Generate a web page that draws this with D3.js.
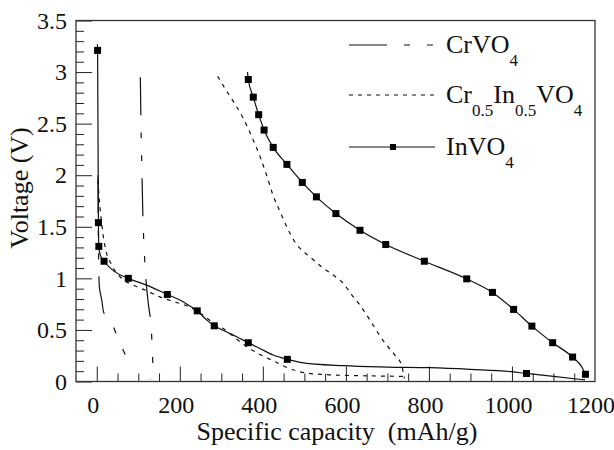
<!DOCTYPE html>
<html>
<head>
<meta charset="utf-8">
<script src="https://cdn.jsdelivr.net/npm/d3@7"></script>
</head>
<body style="margin:0; background:#fff">
<div id="chart"></div>
<script>
// values: [capacity mAh/g, voltage V]
var invo4Left = [[1.5,3.27],[2,3.21],[4,1.54],[5,1.31],[9,1.22],[17.6,1.166],[44,1.063],[76,1.0],[120,0.934],[170,0.844],[200,0.79],[225,0.73],[242,0.685],[265,0.595],[283,0.54],[313,0.48],[337,0.434],[365,0.376],[393,0.32],[425,0.257],[459,0.215],[490,0.186],[594,0.153],[700,0.14],[802,0.134],[900,0.118],[1000,0.095],[1035,0.078],[1100,0.05],[1176,0.015]];
var invo4LeftMarks = [[2,3.21],[4,1.54],[5,1.31],[17.6,1.166],[76,1.0],[170,0.844],[242,0.685],[283,0.54],[365,0.376],[459,0.215],[1035,0.078]];
var invo4Right = [[363,3.0],[365,2.928],[377,2.757],[390,2.587],[403,2.438],[425,2.27],[458,2.105],[495,1.93],[529,1.79],[576,1.628],[634,1.466],[696,1.328],[789,1.166],[891,0.995],[953,0.864],[1004,0.699],[1048,0.537],[1098,0.376],[1146,0.237],[1168,0.143],[1177,0.07]];
var invo4RightMarks = [[365,2.928],[377,2.757],[390,2.587],[403,2.438],[425,2.27],[458,2.105],[495,1.93],[529,1.79],[576,1.628],[634,1.466],[696,1.328],[789,1.166],[891,0.995],[953,0.864],[1004,0.699],[1048,0.537],[1098,0.376],[1146,0.237],[1177,0.07]];
var mixLeft = [[3,1.95],[5,1.82],[8,1.68],[12,1.53],[16,1.40],[22,1.27],[36,1.13],[60,1.0],[88,0.934],[120,0.88],[152,0.82],[200,0.757],[225,0.72],[250,0.66],[280,0.57],[313,0.49],[337,0.41],[360,0.34],[385,0.28],[425,0.20],[465,0.125],[500,0.085],[560,0.065],[650,0.055],[740,0.05]];
var mixRight = [[291,2.96],[309,2.84],[325,2.74],[353,2.55],[377,2.34],[397,2.14],[413,1.95],[425,1.80],[440,1.66],[460,1.48],[476,1.36],[490,1.29],[513,1.21],[542,1.11],[570,1.03],[594,0.95],[614,0.84],[634,0.74],[658,0.595],[678,0.467],[698,0.353],[718,0.256],[734,0.16],[741,0.03]];
var crvo4Left = [[3,2.0],[3.5,1.6],[4.5,1.2],[6,0.93],[9,0.85],[12,0.79],[16,0.68],[25,0.62],[38,0.547],[50,0.43],[62,0.32],[72,0.23],[81,0.16]];
var crvo4Right = [[105,2.95],[106.5,2.5],[108,2.2],[110,1.8],[111.5,1.55],[114,1.3],[118,1.01],[124,0.76],[130,0.58],[133,0.37],[135,0.16],[134.5,0.05],[128,0.02]];

var xMajor = [0, 200, 400, 600, 800, 1000, 1200];
var yMajor = [0, 0.5, 1, 1.5, 2, 2.5, 3, 3.5];

var serif = "'Liberation Serif', 'Times New Roman', serif";
var width = 614, height = 450;
var svg = d3.select("#chart").append("svg")
  .attr("width", width).attr("height", height);

var x = d3.scaleLinear().domain([-50, 1200]).range([76, 595]);
var y = d3.scaleLinear().domain([0, 3.5]).range([381.5, 20.5]);

// minor ticks every 50 / 0.1, inward
var xMinor = d3.range(0, 1200, 50).filter(function(d) { return d % 200 !== 0; });
var yMinor = d3.range(1, 35).map(function(d) { return d / 10; }).filter(function(d) { return Math.round(d * 10) % 5 !== 0; });

svg.append("g")
  .attr("transform", "translate(0," + y(0) + ")")
  .call(d3.axisBottom(x).tickValues(xMinor).tickSize(-8).tickFormat(""))
  .call(function(g) { g.select(".domain").remove(); });

svg.append("g")
  .attr("class", "xaxis")
  .attr("transform", "translate(0," + y(0) + ")")
  .call(d3.axisBottom(x).tickValues(xMajor.filter(function(d) { return d < 1200; })).tickSize(-15).tickPadding(14).tickFormat(function(d) { return d; }))
  .call(function(g) { g.select(".domain").remove(); });

// 1200 label sits on the frame, no tick line
svg.append("text")
  .attr("x", x(1200) - 4).attr("y", y(0) + 31.5)
  .attr("text-anchor", "middle").style("font-size", "24px")
  .text(xMajor[xMajor.length - 1]);

svg.selectAll(".xaxis text").attr("dx", -4).style("font-size", "24px");

svg.append("g")
  .attr("transform", "translate(" + x(-50) + ",0)")
  .call(d3.axisLeft(y).tickValues(yMinor).tickSize(-8).tickFormat(""))
  .call(function(g) { g.select(".domain").remove(); });

svg.append("g")
  .attr("class", "yaxis")
  .attr("transform", "translate(" + x(-50) + ",0)")
  .call(d3.axisLeft(y).tickValues(yMajor).tickSize(-16).tickPadding(9).tickFormat(function(d) { return String(d); }))
  .call(function(g) { g.select(".domain").remove(); });

svg.selectAll(".yaxis text").style("font-size", "24px");
svg.selectAll(".tick line").attr("stroke", "#222");

// frame
svg.append("rect")
  .attr("x", x(-50)).attr("y", y(3.5))
  .attr("width", x(1200) - x(-50)).attr("height", y(0) - y(3.5))
  .attr("fill", "none").attr("stroke", "#333").attr("stroke-width", 1.3);

var smooth = d3.line()
  .x(function(d) { return x(d[0]); })
  .y(function(d) { return y(d[1]); })
  .curve(d3.curveMonotoneX);

var loose = d3.line()
  .x(function(d) { return x(d[0]); })
  .y(function(d) { return y(d[1]); })
  .curve(d3.curveCatmullRom);

var crDash = "38,17,6,17,6,17";
var mixDash = "4,5";

function drawLine(data, gen, dash) {
  svg.append("path")
    .datum(data)
    .attr("d", gen)
    .attr("fill", "none")
    .attr("stroke", "#111")
    .attr("stroke-width", 1.2)
    .attr("stroke-dasharray", dash);
}

drawLine(crvo4Left, smooth, crDash);
drawLine(crvo4Right, loose, crDash);
drawLine(mixLeft, smooth, mixDash);
drawLine(mixRight, smooth, mixDash);
drawLine(invo4Left, smooth, null);
drawLine(invo4Right, smooth, null);

var sq = 7;
svg.selectAll(".mark")
  .data(invo4LeftMarks.concat(invo4RightMarks))
  .enter().append("rect")
  .attr("class", "mark")
  .attr("x", function(d) { return x(d[0]) - sq / 2; })
  .attr("y", function(d) { return y(d[1]) - sq / 2; })
  .attr("width", sq).attr("height", sq)
  .attr("fill", "#000");

// legend
var legend = [
  { parts: [["CrVO", 0], ["4", 1]], dash: crDash, mark: false },
  { parts: [["Cr", 0], ["0.5", 1], ["In", 0], ["0.5", 1], ["VO", 0], ["4", 1]], dash: mixDash, mark: false },
  { parts: [["InVO", 0], ["4", 1]], dash: null, mark: true }
];
var legendY = [45, 95, 147];

legend.forEach(function(item, i) {
  var ly = legendY[i];
  svg.append("line")
    .attr("x1", 349).attr("x2", 435)
    .attr("y1", ly).attr("y2", ly)
    .attr("stroke", "#111").attr("stroke-width", 1.2)
    .attr("stroke-dasharray", item.dash);
  if (item.mark) {
    svg.append("rect")
      .attr("x", 393 - 3).attr("y", ly - 3)
      .attr("width", 6).attr("height", 6).attr("fill", "#000");
  }
  var t = svg.append("text")
    .attr("x", 446).attr("y", ly + 7.5)
    .style("font-size", "26px");
  var prev = 0;
  item.parts.forEach(function(p) {
    var shift = (p[1] - prev) * 13;
    prev = p[1];
    t.append("tspan")
      .attr("dy", shift)
      .style("font-size", p[1] ? "17px" : "26px")
      .text(p[0]);
  });
});

// axis titles
svg.append("text")
  .attr("x", 337).attr("y", 440)
  .attr("text-anchor", "middle")
  .style("font-size", "26px")
  .style("white-space", "pre")
  .text("Specific capacity  (mAh/g)");

svg.append("text")
  .attr("transform", "translate(28,188) rotate(-90)")
  .attr("text-anchor", "middle")
  .style("font-size", "26px")
  .text("Voltage (V)");

// one serif face for every label
svg.selectAll("text").style("font-family", serif).style("fill", "#111");
</script>
</body>
</html>
